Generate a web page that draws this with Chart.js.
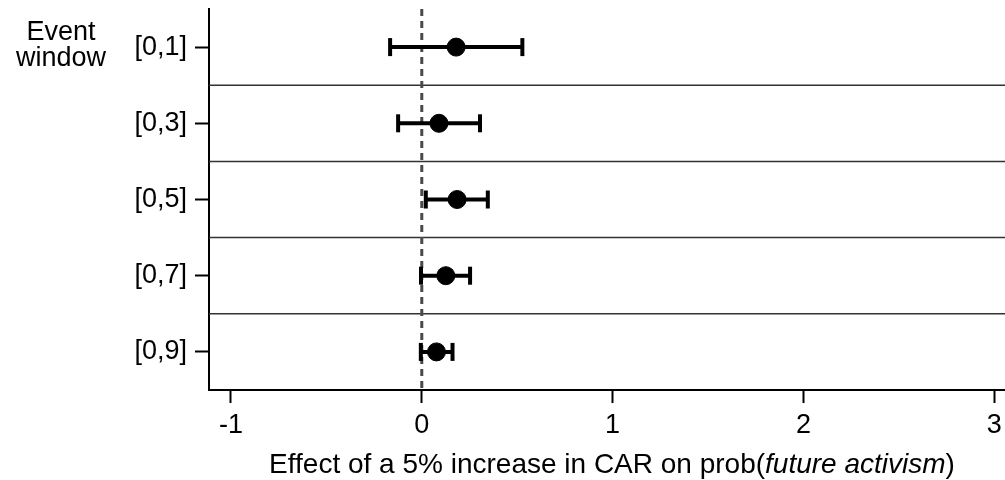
<!DOCTYPE html>
<html>
<head>
<meta charset="utf-8">
<script src="https://cdn.jsdelivr.net/npm/chart.js@4.4.1/dist/chart.umd.min.js"></script>
<style>
  html, body { margin: 0; padding: 0; background: #ffffff; }
  #wrap { width: 1005px; height: 480px; position: relative; }
</style>
</head>
<body>
<div id="wrap"><canvas id="coefChart"></canvas></div>
<script>
// event windows and estimated effects with 95% confidence bounds
const windows = ["[0,1]", "[0,3]", "[0,5]", "[0,7]", "[0,9]"];
const estimates = [0.180, 0.090, 0.185, 0.126, 0.077];
const ciLow = [-0.166, -0.124, 0.021, -0.004, -0.005];
const ciHigh = [0.527, 0.305, 0.346, 0.253, 0.161];
const xTicks = [-1, 0, 1, 2, 3];

const FONT = "'Liberation Sans', Arial, sans-serif";

// one dataset per window for the capped interval lines
const intervalSets = windows.map((w, i) => ({
    type: "line",
    data: [
        { x: ciLow[i], y: w },
        { x: ciHigh[i], y: w }
    ],
    borderColor: "#000000",
    borderWidth: 4,
    pointStyle: "line",
    pointRadius: 9,
    pointRotation: 90,
    pointBorderWidth: 4,
    pointBorderColor: "#000000",
    order: 2
}));

const pointSet = {
    type: "scatter",
    data: windows.map((w, i) => ({ x: estimates[i], y: w })),
    backgroundColor: "#000000",
    borderColor: "#000000",
    pointRadius: 9,
    order: 1
};

// zero reference line and row separators
const guides = {
    id: "guides",
    beforeDatasetsDraw(chart) {
        const { ctx, chartArea, scales } = chart;
        const y = scales.y;
        ctx.save();
        ctx.strokeStyle = "#333333";
        ctx.lineWidth = 1.5;
        for (let i = 0; i < windows.length - 1; i++) {
            const py = (y.getPixelForValue(i) + y.getPixelForValue(i + 1)) / 2;
            ctx.beginPath();
            ctx.moveTo(chartArea.left, py);
            ctx.lineTo(chartArea.right, py);
            ctx.stroke();
        }
        const x0 = scales.x.getPixelForValue(0);
        ctx.strokeStyle = "#4a4a4a";
        ctx.lineWidth = 3;
        ctx.setLineDash([7, 5]);
        ctx.beginPath();
        ctx.moveTo(x0, chartArea.top);
        ctx.lineTo(x0, chartArea.bottom);
        ctx.stroke();
        ctx.restore();
    }
};

// axis titles: mixed upright / italic text
const titles = {
    id: "titles",
    afterDraw(chart) {
        const { ctx } = chart;
        ctx.save();
        ctx.fillStyle = "#000000";
        ctx.textBaseline = "alphabetic";

        ctx.textAlign = "center";
        ctx.font = "27px " + FONT;
        ctx.fillText("Event", 61, 40);
        ctx.fillText("window", 61, 66);

        const parts = [
            { text: "Effect of a 5% increase in CAR on prob(", font: "28px " + FONT },
            { text: "future activism", font: "italic 28px " + FONT },
            { text: ")", font: "28px " + FONT }
        ];
        let total = 0;
        parts.forEach(p => {
            ctx.font = p.font;
            p.w = ctx.measureText(p.text).width;
            total += p.w;
        });
        ctx.textAlign = "left";
        let x = 612 - total / 2;
        parts.forEach(p => {
            ctx.font = p.font;
            ctx.fillText(p.text, x, 473);
            x += p.w;
        });
        ctx.restore();
    }
};

new Chart(document.getElementById("coefChart"), {
    data: { datasets: [...intervalSets, pointSet] },
    options: {
        responsive: true,
        maintainAspectRatio: false,
        animation: false,
        layout: {
            autoPadding: false,
            padding: { top: 9, right: 0, bottom: 0, left: 0 }
        },
        plugins: {
            legend: { display: false },
            tooltip: { enabled: false }
        },
        scales: {
            x: {
                type: "linear",
                min: -1.115,
                max: 3.056,
                afterBuildTicks: scale => {
                    scale.ticks = xTicks.map(v => ({ value: v }));
                },
                afterFit: scale => {
                    scale.height = 90;
                    scale.paddingLeft = 0;
                    scale.paddingRight = 0;
                },
                border: { display: true, color: "#000000", width: 2 },
                grid: {
                    drawOnChartArea: false,
                    drawTicks: true,
                    tickLength: 13,
                    tickWidth: 2,
                    tickColor: "#000000"
                },
                ticks: {
                    color: "#000000",
                    padding: 6,
                    maxRotation: 0,
                    font: { family: FONT, size: 27 }
                }
            },
            y: {
                type: "category",
                labels: windows,
                offset: true,
                afterFit: scale => {
                    scale.width = 209;
                    scale.paddingTop = 0;
                    scale.paddingBottom = 0;
                },
                border: { display: true, color: "#000000", width: 2 },
                grid: {
                    drawOnChartArea: false,
                    drawTicks: true,
                    tickLength: 14,
                    tickWidth: 2,
                    tickColor: "#000000"
                },
                ticks: {
                    color: "#000000",
                    padding: 8,
                    font: { family: FONT, size: 27 }
                }
            }
        }
    },
    plugins: [guides, titles]
});
</script>
</body>
</html>
